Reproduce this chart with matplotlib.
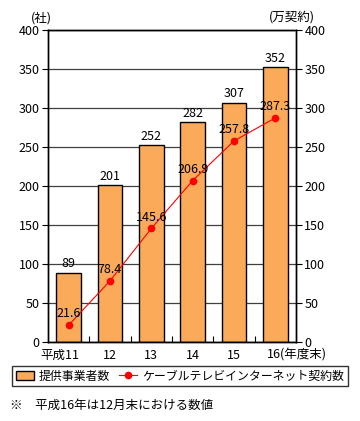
import matplotlib
matplotlib.use("Agg")
import matplotlib.pyplot as plt
from matplotlib.patches import Patch
from matplotlib.lines import Line2D

plt.rcParams["font.family"] = ["Noto Sans CJK JP", "DejaVu Sans"]

# データ
years = ["平成11", "12", "13", "14", "15", "16(年度末)"]
providers = [89, 201, 252, 282, 307, 352]          # 提供事業者数（社）
subscribers = [21.6, 78.4, 145.6, 206.9, 257.8, 287.3]  # 契約数（万契約）

BAR_COLOR = "#FBAA5A"
FS = 9

fig = plt.figure(figsize=(3.6, 4.21), dpi=100)
ax = fig.add_axes([48 / 360, 1 - 342 / 421, 248 / 360, 312 / 421])
ax2 = ax.twinx()

x = list(range(len(years)))
ax.bar(x, providers, width=0.6, color=BAR_COLOR, edgecolor="black",
       linewidth=1.0, zorder=2)
for xi, v in zip(x, providers):
    ax.annotate(str(v), (xi, v), xytext=(0, 1.5), textcoords="offset points",
                ha="center", va="bottom", fontsize=FS, zorder=4)

ax.set_xlim(-0.5, len(years) - 0.5)
ax.set_ylim(0, 400)
ax.set_yticks(range(0, 401, 50))
ax.grid(axis="y", color="#404040", linewidth=0.9, zorder=0)
ax.set_axisbelow(True)
ax.set_xticks([i + 0.5 for i in x[:-1]])
ax.set_xticklabels([])
ax.tick_params(axis="x", direction="in", length=4, width=0.8)
ax.tick_params(axis="y", direction="out", length=4, width=0.8,
               labelsize=FS, pad=2)
for s in ax.spines.values():
    s.set_linewidth(1.0)

# x軸ラベル
for i, lab in enumerate(years):
    if i == 0:
        ha, dx = "right", 8
    elif i == len(years) - 1:
        ha, dx = "left", -6
    else:
        ha, dx = "center", 0
    ax.annotate(lab, (i, 0), xycoords=("data", "axes fraction"),
                xytext=(dx, -5), textcoords="offset points",
                ha=ha, va="top", fontsize=FS)

# 折れ線（右軸）
ax2.plot(x, subscribers, color="red", linewidth=0.8, marker="o",
         markersize=4.5, zorder=3)
for xi, v in zip(x, subscribers):
    ax2.annotate(f"{v}", (xi, v), xytext=(0, 3.5), textcoords="offset points",
                 ha="center", va="bottom", fontsize=FS)
ax2.set_ylim(0, 400)
ax2.set_yticks(range(0, 401, 50))
ax2.tick_params(axis="y", direction="out", length=4, width=0.8,
                labelsize=FS, pad=2)
for s in ax2.spines.values():
    s.set_linewidth(1.0)

fig.text(41 / 360, 1 - 18 / 421, "(社)", ha="center", va="center", fontsize=FS)
fig.text(292 / 360, 1 - 17 / 421, "(万契約)", ha="center", va="center",
         fontsize=FS)

handles = [
    Patch(facecolor=BAR_COLOR, edgecolor="black", linewidth=1.0),
    Line2D([], [], color="red", linewidth=0.8, marker="o", markersize=4.5),
]
leg = fig.legend(handles, ["提供事業者数", "ケーブルテレビインターネット契約数"],
                 loc="center", ncol=2, fontsize=8.6, frameon=True,
                 fancybox=False, edgecolor="black", handlelength=1.5,
                 handletextpad=0.4, columnspacing=0.8, borderpad=0.3,
                 borderaxespad=0.2,
                 bbox_to_anchor=(180 / 360, 1 - 376 / 421))
leg.get_frame().set_linewidth(1.0)

fig.text(10 / 360, 1 - 405 / 421, "※　平成16年は12月末における数値",
         ha="left", va="center", fontsize=FS)

fig.savefig("out.png", dpi=100)
